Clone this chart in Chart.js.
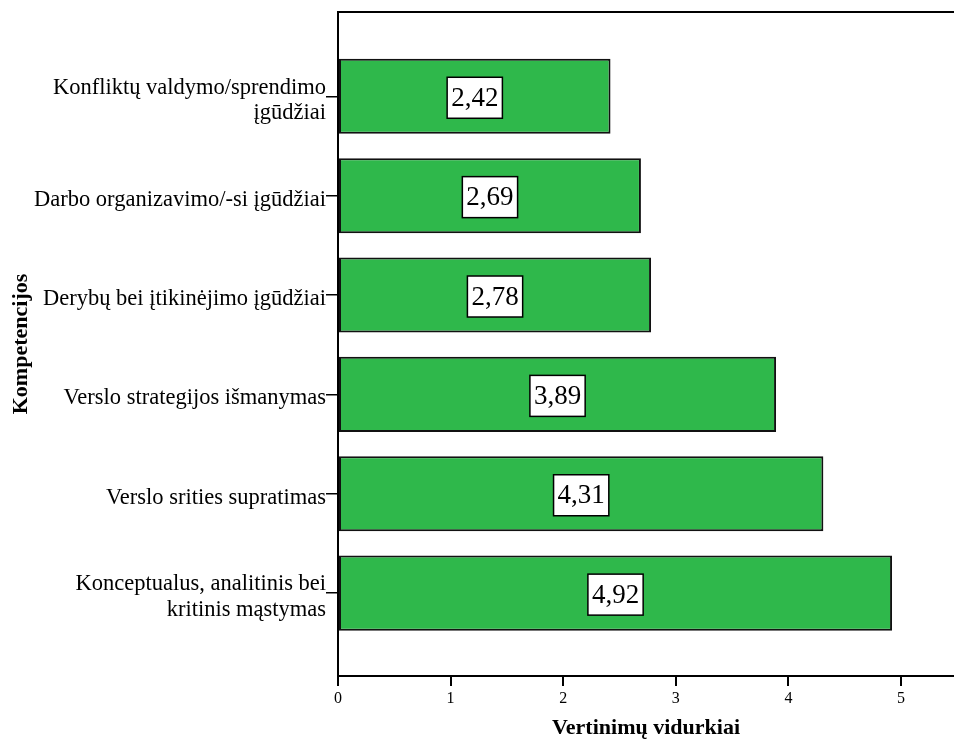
<!DOCTYPE html>
<html>
<head>
<meta charset="utf-8">
<script src="https://cdn.jsdelivr.net/npm/chart.js@4/dist/chart.umd.min.js"></script>
<style>
  html, body { margin: 0; padding: 0; background: #fff; }
  #wrap { width: 954px; height: 742px; }
</style>
</head>
<body>
<div id="wrap"><canvas id="chart" width="954" height="742"></canvas></div>
<script>
'use strict';

// Competencies, top to bottom
const categories = [
  ['Konfliktų valdymo/sprendimo', 'įgūdžiai'],
  'Darbo organizavimo/-si įgūdžiai',
  'Derybų bei įtikinėjimo įgūdžiai',
  'Verslo strategijos išmanymas',
  'Verslo srities supratimas',
  ['Konceptualus, analitinis bei', 'kritinis mąstymas'],
];
// Mean scores
const means = [2.42, 2.69, 2.78, 3.89, 4.31, 4.92];
const xTicks = [0, 1, 2, 3, 4, 5];

const SERIF = '"Liberation Serif", "Times New Roman", serif';
const BAR_GREEN = 'rgb(47,184,75)';

function formatValue(v) {
  return v.toFixed(2).replace('.', ',');
}

// boxed value label in the middle of each bar
const valueBoxes = {
  id: 'valueBoxes',
  afterDatasetsDraw(chart) {
    const ctx = chart.ctx;
    const meta = chart.getDatasetMeta(0);
    ctx.save();
    ctx.font = '27px ' + SERIF;
    ctx.textAlign = 'center';
    ctx.textBaseline = 'middle';
    meta.data.forEach((bar, i) => {
      const text = formatValue(means[i]);
      const cx = (bar.x + bar.base) / 2;
      const cy = bar.y + 1.5;
      const w = ctx.measureText(text).width + 8;
      const h = 41;
      ctx.fillStyle = '#fff';
      ctx.fillRect(cx - w / 2, cy - h / 2, w, h);
      ctx.lineWidth = 1.5;
      ctx.strokeStyle = '#000';
      ctx.strokeRect(cx - w / 2, cy - h / 2, w, h);
      ctx.fillStyle = '#000';
      ctx.fillText(text, cx, cy + 1);
    });
    ctx.restore();
  },
};

// top edge of the frame
const frameTop = {
  id: 'frameTop',
  afterDraw(chart) {
    const { ctx, chartArea } = chart;
    ctx.save();
    ctx.strokeStyle = '#000';
    ctx.lineWidth = 2;
    ctx.beginPath();
    ctx.moveTo(chartArea.left, chartArea.top);
    ctx.lineTo(chartArea.right, chartArea.top);
    ctx.stroke();
    ctx.restore();
  },
};

new Chart(document.getElementById('chart'), {
  type: 'bar',
  data: {
    datasets: [{
      data: means.map((v, i) => ({ x: v, y: i })),
      backgroundColor: BAR_GREEN,
      borderColor: '#111',
      borderWidth: 2,
      borderSkipped: false,
      categoryPercentage: 1,
      barPercentage: 0.755,
    }],
  },
  options: {
    indexAxis: 'y',
    responsive: false,
    animation: false,
    layout: { padding: { top: 12, right: 0, bottom: 0, left: 0 } },
    plugins: {
      legend: { display: false },
      tooltip: { enabled: false },
    },
    scales: {
      x: {
        type: 'linear',
        position: 'bottom',
        min: 0,
        max: 5.47,
        afterBuildTicks: (scale) => { scale.ticks = xTicks.map(v => ({ value: v })); },
        afterFit: (scale) => {
          scale.height = 66;
          scale.paddingLeft = 0;
          scale.paddingRight = 0;
        },
        ticks: {
          color: '#000',
          font: { family: SERIF, size: 16 },
          padding: 3,
          maxRotation: 0,
        },
        grid: { drawOnChartArea: false, color: '#000', lineWidth: 2, tickLength: 10 },
        border: { display: true, color: '#000', width: 2 },
        title: {
          display: true,
          text: 'Vertinimų vidurkiai',
          color: '#000',
          font: { family: SERIF, size: 22, weight: 'bold' },
          padding: { top: 0, bottom: 0 },
        },
      },
      y: {
        type: 'linear',
        position: 'left',
        reverse: true,
        offset: false,
        min: -0.848,
        max: 5.834,
        afterBuildTicks: (scale) => { scale.ticks = categories.map((_, i) => ({ value: i })); },
        afterFit: (scale) => {
          scale.width = 338;
          scale.paddingTop = 0;
          scale.paddingBottom = 0;
        },
        ticks: {
          color: '#000',
          font: { family: SERIF, size: 22.5, lineHeight: 1.12 },
          padding: 0,
          labelOffset: 4,
          callback: (v) => categories[v],
        },
        grid: { offset: false, drawOnChartArea: false, color: '#000', lineWidth: 1.5, tickLength: 12 },
        border: { display: true, color: '#000', width: 2 },
        title: {
          display: true,
          text: 'Kompetencijos',
          color: '#000',
          font: { family: SERIF, size: 22, weight: 'bold' },
          padding: { top: 8, bottom: 0 },
        },
      },
    },
  },
  plugins: [valueBoxes, frameTop],
});
</script>
</body>
</html>
